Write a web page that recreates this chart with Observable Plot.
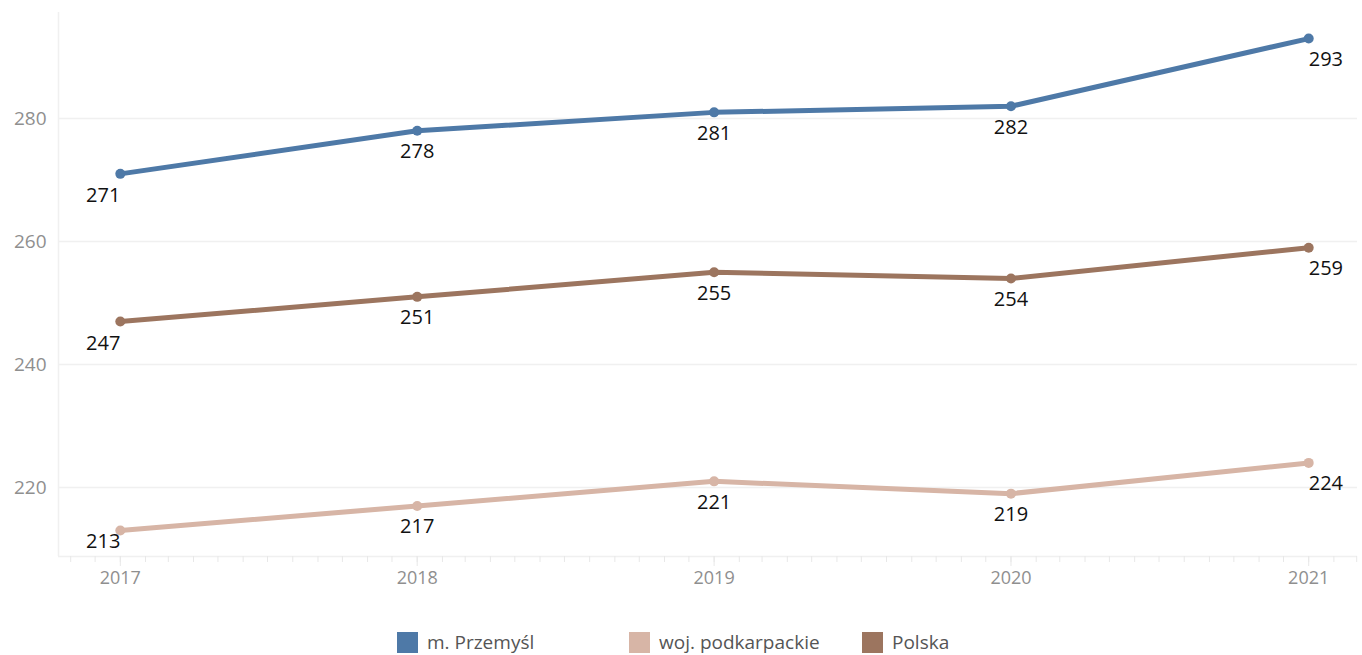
<!DOCTYPE html>
<html>
<head>
<meta charset="utf-8">
<script src="https://cdn.jsdelivr.net/npm/d3@7"></script>
<script src="https://cdn.jsdelivr.net/npm/@observablehq/plot@0.6"></script>
<style>
  html, body { margin: 0; padding: 0; background: #fff; }
  #chart svg { display: block; }
  #legend { display: flex; padding-left: 397px; margin-top: 32px; font-family: "Open Sans", sans-serif; font-size: 19px; line-height: 21px; color: #555; }
  .item { display: flex; align-items: center; height: 21px; }
  .sw { width: 21px; height: 21px; margin-right: 9px; flex: none; }
</style>
</head>
<body>
<div id="chart"></div>
<div id="legend"></div>
<script>
const years = [2017, 2018, 2019, 2020, 2021];
const series = ["m. Przemyśl", "woj. podkarpackie", "Polska"];
const przemysl = [271, 278, 281, 282, 293];
const podkarpackie = [213, 217, 221, 219, 224];
const polska = [247, 251, 255, 254, 259];
const colors = ["#4e79a7", "#d7b5a6", "#9c755f"];
const yTicks = [220, 240, 260, 280];

const valuesBySeries = [przemysl, podkarpackie, polska];
const data = [];
series.forEach((s, i) => years.forEach((y, j) => data.push({series: s, date: new Date(Date.UTC(y, 0, 1)), year: y, value: valuesBySeries[i][j]})));

const yDomain = [208.78, 297.24];
const xDomain = [new Date(Date.UTC(2016, 9, 17)), new Date(Date.UTC(2021, 2, 2))];
const firstYear = years[0], lastYear = years[years.length - 1];
const low = d => d.value < yDomain[0] + 6;
const font = "Open Sans, sans-serif";
const lblSize = 20;

const chart = Plot.plot({
  width: 1362,
  height: 600,
  marginLeft: 58,
  marginRight: 5,
  marginTop: 12,
  marginBottom: 44,
  style: {fontFamily: font, background: "#fff"},
  x: {type: "utc", domain: xDomain},
  y: {domain: yDomain},
  color: {domain: series, range: colors},
  marks: [
    Plot.ruleY(yTicks, {stroke: "#f0f0f0", strokeWidth: 1.5}),
    Plot.ruleX([xDomain[0]], {stroke: "#f0f0f0", strokeWidth: 1.5}),
    Plot.ruleY([yDomain[0]], {stroke: "#f0f0f0", strokeWidth: 1.5}),
    Plot.axisY({ticks: yTicks, tickSize: 0, tickPadding: 12, fontSize: 19, color: "#8f8f8f", label: null}),
    Plot.axisX({ticks: d3.utcMonth.every(1), tickSize: 6, tickFormat: () => "", stroke: "#e8e8e8", label: null}),
    Plot.axisX({ticks: d3.utcYear.every(1), tickSize: 10, tickPadding: 5, tickFormat: d3.utcFormat("%Y"), stroke: "#e8e8e8", fontSize: 18, color: "#8f8f8f", label: null}),
    Plot.line(data, {x: "date", y: "value", z: "series", stroke: "series", strokeWidth: 5}),
    Plot.dot(data, {x: "date", y: "value", fill: "series", r: 5}),
    Plot.text(data.filter(d => d.year === firstYear && !low(d)), {x: "date", y: "value", text: d => String(d.value), textAnchor: "end", dy: 22, fontSize: lblSize, fill: "#111"}),
    Plot.text(data.filter(d => d.year === firstYear && low(d)), {x: "date", y: "value", text: d => String(d.value), textAnchor: "end", dy: 11, fontSize: lblSize, fill: "#111"}),
    Plot.text(data.filter(d => d.year === lastYear), {x: "date", y: "value", text: d => String(d.value), textAnchor: "start", dy: 21, fontSize: lblSize, fill: "#111"}),
    Plot.text(data.filter(d => d.year !== firstYear && d.year !== lastYear), {x: "date", y: "value", text: d => String(d.value), dy: 21, fontSize: lblSize, fill: "#111"})
  ]
});
document.getElementById("chart").appendChild(chart);

const legend = document.getElementById("legend");
const widths = [232, 233, 150];
series.forEach((s, i) => {
  const item = document.createElement("div");
  item.className = "item";
  item.style.width = widths[i] + "px";
  const sw = document.createElement("div");
  sw.className = "sw";
  sw.style.background = colors[i];
  const t = document.createElement("span");
  t.textContent = s;
  item.appendChild(sw);
  item.appendChild(t);
  legend.appendChild(item);
});
</script>
</body>
</html>
